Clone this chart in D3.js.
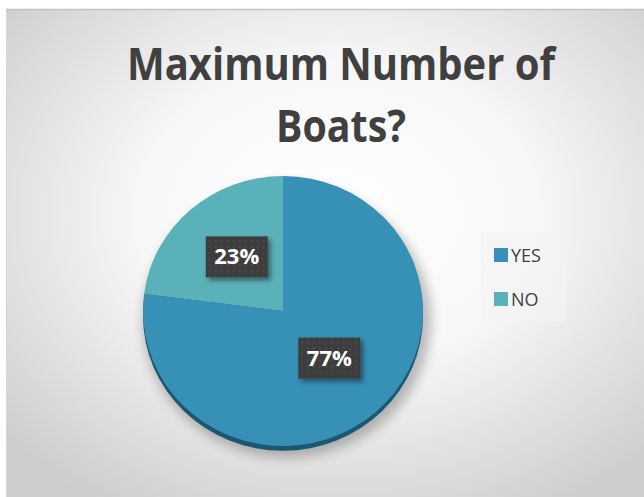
<!DOCTYPE html>
<html lang="en">
  <head>
    <meta charset="UTF-8">
    <title>Maximum Number of Boats?</title>
    <script src="https://cdn.jsdelivr.net/npm/d3@7"></script>
    <style>
      html, body { margin: 0; padding: 0; background: #fff; }
      svg { display: block; font-family: 'Open Sans', sans-serif; }
    </style>
  </head>
  <body>
    <script>
      const categories = ["YES", "NO"];
      const values = [77, 23];
      const colors = ["#3790b5", "#5bb1b9"];
      const titleLines = ["Maximum Number of", "Boats?"];

      const W = 644, H = 497;
      const svg = d3.select("body").append("svg").attr("width", W).attr("height", H);
      const defs = svg.append("defs");

      // background gradient
      const bg = defs.append("radialGradient").attr("id", "bg")
        .attr("cx", "52%").attr("cy", "42%").attr("r", "70%");
      bg.append("stop").attr("offset", "0%").attr("stop-color", "#ffffff");
      bg.append("stop").attr("offset", "45%").attr("stop-color", "#f7f7f7");
      bg.append("stop").attr("offset", "100%").attr("stop-color", "#cdcdcd");

      const pat = defs.append("pattern").attr("id", "dots")
        .attr("width", 6).attr("height", 6).attr("patternUnits", "userSpaceOnUse");
      pat.append("rect").attr("width", 6).attr("height", 6).attr("fill", "#3d3d3d");
      pat.append("rect").attr("x", 2).attr("y", 2).attr("width", 1.5).attr("height", 1.5).attr("fill", "#575757");

      const shadow = defs.append("filter").attr("id", "shadow")
        .attr("x", "-20%").attr("y", "-20%").attr("width", "150%").attr("height", "160%");
      shadow.append("feDropShadow").attr("dx", 3).attr("dy", 3).attr("stdDeviation", 2.5)
        .attr("flood-color", "#000").attr("flood-opacity", 0.45);

      const pieShadow = defs.append("filter").attr("id", "pieShadow")
        .attr("x", "-20%").attr("y", "-20%").attr("width", "140%").attr("height", "140%");
      pieShadow.append("feGaussianBlur").attr("stdDeviation", 6);

      svg.append("rect").attr("x", 6).attr("y", 10).attr("width", W - 6).attr("height", H - 10)
        .attr("fill", "url(#bg)");
      svg.append("line").attr("x1", 6).attr("x2", W).attr("y1", 9.5).attr("y2", 9.5)
        .attr("stroke", "#c4c4c4").attr("stroke-width", 1.5);
      svg.append("line").attr("x1", 6.5).attr("x2", 6.5).attr("y1", 9).attr("y2", H)
        .attr("stroke", "#d6d6d6").attr("stroke-width", 1);

      // title
      svg.append("g").selectAll("text").data(titleLines).join("text")
        .attr("x", 341).attr("y", (d, i) => 80 + i * 62)
        .attr("text-anchor", "middle")
        .attr("font-size", 45).attr("font-weight", 700).attr("fill", "#404040")
        .attr("textLength", (d, i) => i === 0 ? 428 : 130)
        .attr("lengthAdjust", "spacingAndGlyphs")
        .text(d => d);

      // pie (slightly tilted, like the 3d look of the original)
      const cx = 283, cy = 311, r = 140, tilt = 0.964;
      const data = categories.map((c, i) => ({ cat: c, value: values[i], color: colors[i] }));
      const pie = d3.pie().value(d => d.value).sort(null);
      const arc = d3.arc().innerRadius(0).outerRadius(r);
      const labelArc = d3.arc().innerRadius(70).outerRadius(70);
      const arcs = pie(data);

      const g = svg.append("g").attr("transform", `translate(${cx},${cy}) scale(1,${tilt})`);
      g.append("ellipse").attr("cx", 4).attr("cy", 10).attr("rx", r + 4).attr("ry", r + 2)
        .attr("fill", "#000").attr("opacity", 0.25).attr("filter", "url(#pieShadow)");
      g.append("circle").attr("cx", 0).attr("cy", 5).attr("r", r).attr("fill", "#1c5670");
      g.selectAll("path.slice").data(arcs).join("path").attr("class", "slice")
        .attr("d", arc).attr("fill", d => d.data.color);

      // labels
      const lab = svg.append("g").selectAll("g.lab").data(arcs).join("g").attr("class", "lab")
        .attr("transform", d => {
          const c = labelArc.centroid(d);
          return `translate(${cx + c[0]},${cy + c[1] * tilt - 4})`;
        });
      lab.append("rect").attr("x", -31).attr("y", -20).attr("width", 62).attr("height", 41)
        .attr("fill", "url(#dots)").attr("filter", "url(#shadow)");
      lab.append("text").attr("text-anchor", "middle").attr("y", 8)
        .attr("font-size", 22).attr("font-weight", 700).attr("fill", "#fff")
        .text(d => d.data.value + "%");

      // legend
      const leg = svg.append("g").attr("transform", "translate(481,232)");
      leg.append("rect").attr("width", 85).attr("height", 90).attr("fill", "#f3f3f3").attr("opacity", 0.6);
      const items = leg.selectAll("g.item").data(data).join("g").attr("class", "item")
        .attr("transform", (d, i) => `translate(13,${16 + i * 44})`);
      items.append("rect").attr("width", 14).attr("height", 14).attr("fill", d => d.color);
      items.append("text").attr("x", 17).attr("y", 14).attr("font-size", 18)
        .attr("fill", "#404040").text(d => d.cat);
    </script>
  </body>
</html>
